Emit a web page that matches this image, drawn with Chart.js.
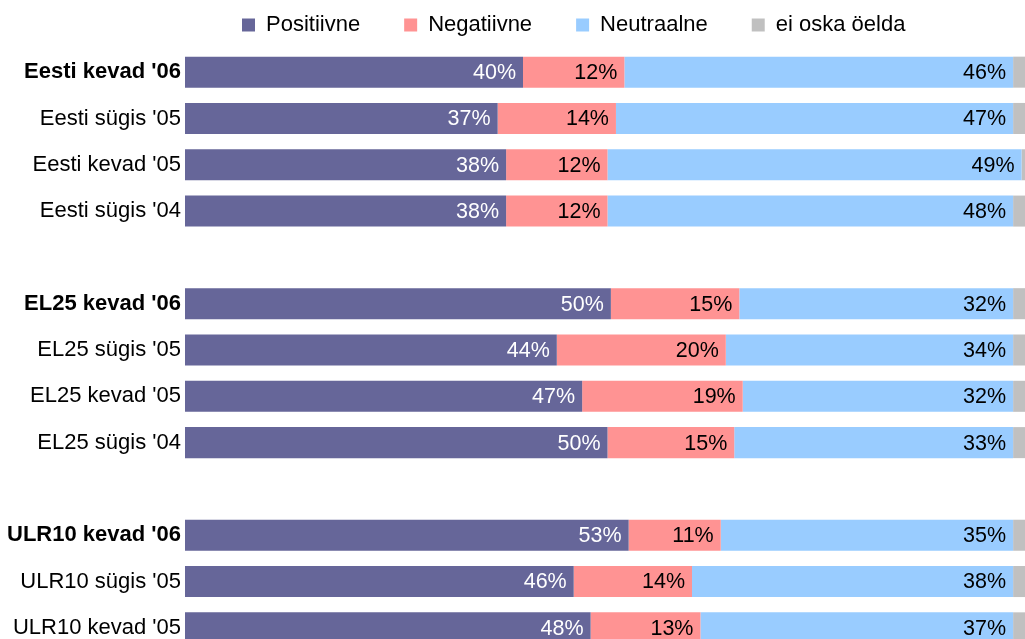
<!DOCTYPE html>
<html>
<head>
<meta charset="utf-8">
<script src="https://cdn.jsdelivr.net/npm/chart.js@4/dist/chart.umd.min.js"></script>
<style>
  html, body { margin: 0; padding: 0; background: #fff; overflow: hidden; }
  #wrap { width: 1030px; height: 651px; position: relative; }
</style>
</head>
<body>
<div id="wrap"><canvas id="chart"></canvas></div>
<script>
// rows, top to bottom ('' = empty gap row)
const categories = [
    "Eesti kevad '06", "Eesti sügis '05", "Eesti kevad '05", "Eesti sügis '04", "",
    "EL25 kevad '06", "EL25 sügis '05", "EL25 kevad '05", "EL25 sügis '04", "",
    "ULR10 kevad '06", "ULR10 sügis '05", "ULR10 kevad '05"
];
const positiivne = [40, 37, 38, 38, null, 50.4, 44, 47, 50, null, 52.5, 46, 48];
const negatiivne = [12, 14, 12, 12, null, 15.2, 20, 19, 15, null, 10.9, 14, 13];
const neutraalne = [46, 47, 49, 48, null, 32.4, 34, 32, 33, null, 34.6, 38, 37];
const eiOska     = [2, 2, 1, 2, null, 2, 2, 2, 2, null, 2, 2, 2];

const seriesNames = ["Positiivne", "Negatiivne", "Neutraalne", "ei oska öelda"];
const seriesColors = ["#666699", "#FF9393", "#99CCFF", "#C0C0C0"];
const labelColors = ["#ffffff", "#000000", "#000000", null];

const FONT = "'Liberation Sans', Arial, Helvetica, sans-serif";
Chart.defaults.font.family = FONT;
Chart.defaults.color = "#000";

// percentage labels at the end of each segment
const segmentLabels = {
    id: "segmentLabels",
    afterDatasetsDraw(chart) {
        const ctx = chart.ctx;
        ctx.save();
        ctx.font = "21.5px " + FONT;
        ctx.textAlign = "right";
        ctx.textBaseline = "middle";
        chart.data.datasets.forEach((ds, i) => {
            if (!labelColors[i]) return;
            ctx.fillStyle = labelColors[i];
            chart.getDatasetMeta(i).data.forEach((bar, j) => {
                const v = ds.data[j];
                if (v == null) return;
                ctx.fillText(Math.round(v) + "%", bar.x - 7, bar.y + 1);
            });
        });
        ctx.restore();
    }
};

// legend sits above the plot, pulled up and right
const legendNudge = {
    id: "legendNudge",
    afterLayout(chart) {
        const lg = chart.legend;
        lg.left += 198; lg.right += 198;
        lg.top -= 30;
    }
};

const datasets = [positiivne, negatiivne, neutraalne, eiOska].map((d, i) => ({
    label: seriesNames[i],
    data: d,
    backgroundColor: seriesColors[i],
    borderWidth: 0,
    barPercentage: 0.67,
    categoryPercentage: 1
}));

new Chart(document.getElementById("chart"), {
    type: "bar",
    data: { labels: categories, datasets: datasets },
    options: {
        indexAxis: "y",
        responsive: true,
        maintainAspectRatio: false,
        animation: false,
        layout: { padding: 0, autoPadding: false },
        scales: {
            x: { stacked: true, min: 0, max: 100, display: false },
            y: {
                stacked: true,
                grid: { display: false, drawTicks: false },
                border: { display: false },
                ticks: {
                    padding: 4,
                    color: "#000",
                    font: (c) => ({
                        size: 22,
                        weight: String(categories[c.index] || "").endsWith("'06") ? "bold" : "normal"
                    })
                },
                afterFit(scale) {
                    scale.width = 185;
                    scale.paddingTop = 0;
                    scale.paddingBottom = 0;
                }
            }
        },
        plugins: {
            legend: {
                position: "top",
                align: "start",
                maxHeight: 49,
                labels: {
                    boxWidth: 13,
                    boxHeight: 13,
                    padding: 44,
                    color: "#000",
                    font: { size: 22 }
                }
            },
            tooltip: { enabled: false }
        }
    },
    plugins: [segmentLabels, legendNudge]
});
</script>
</body>
</html>
